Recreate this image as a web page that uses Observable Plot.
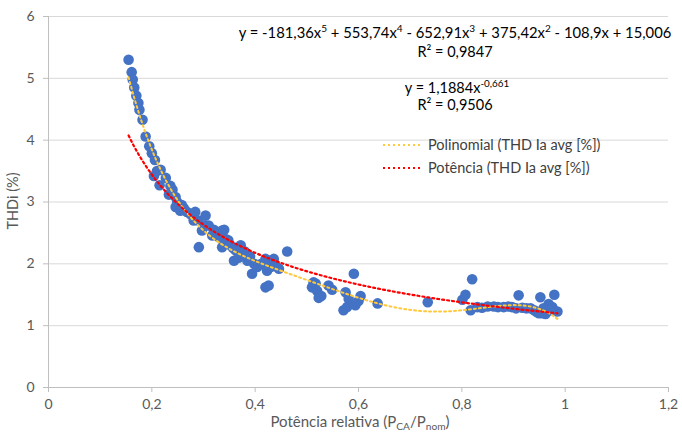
<!DOCTYPE html>
<html><head><meta charset="utf-8">
<script src="https://cdn.jsdelivr.net/npm/d3@7"></script>
<script src="https://cdn.jsdelivr.net/npm/@observablehq/plot@0.6"></script>
<style>
body{margin:0;background:#fff;}
#chart{width:682px;height:433px;}
svg text{font-family:Lato,"Open Sans",sans-serif;}
</style></head><body><div id="chart"></div>
<script>
// Measured points: relative power (x) and THDi % (y)
const relPower = [0.155,0.161,0.163,0.166,0.170,0.174,0.176,0.182,0.188,0.195,0.200,0.206,0.204,0.210,0.217,0.215,0.227,0.233,0.236,0.240,0.246,0.249,0.246,0.255,0.258,0.262,0.268,0.275,0.284,0.281,0.290,0.304,0.297,0.303,0.310,0.317,0.320,0.325,0.330,0.336,0.340,0.343,0.348,0.291,0.336,0.352,0.358,0.362,0.372,0.375,0.380,0.359,0.368,0.385,0.390,0.394,0.404,0.398,0.412,0.420,0.428,0.436,0.423,0.430,0.440,0.446,0.462,0.420,0.426,0.510,0.513,0.517,0.520,0.523,0.528,0.542,0.549,0.571,0.578,0.575,0.581,0.591,0.594,0.600,0.604,0.637,0.734,0.801,0.807,0.820,0.817,0.830,0.839,0.850,0.862,0.870,0.881,0.890,0.897,0.910,0.905,0.917,0.925,0.933,0.940,0.945,0.949,0.952,0.955,0.962,0.968,0.979,0.972,0.985,0.975,0.958];
const thdi = [5.30,5.10,4.98,4.85,4.72,4.60,4.49,4.33,4.06,3.90,3.79,3.68,3.42,3.50,3.52,3.27,3.39,3.12,3.26,3.20,3.08,3.00,2.92,2.86,2.95,2.90,2.84,2.80,2.84,2.70,2.70,2.78,2.54,2.62,2.62,2.46,2.55,2.50,2.43,2.54,2.55,2.40,2.38,2.27,2.27,2.30,2.25,2.22,2.30,2.16,2.20,2.05,2.10,2.05,2.12,1.84,1.95,2.00,2.00,2.08,2.05,2.08,1.89,1.95,1.96,1.92,2.20,1.62,1.65,1.62,1.70,1.68,1.56,1.45,1.48,1.65,1.58,1.25,1.30,1.54,1.43,1.84,1.33,1.40,1.48,1.36,1.38,1.42,1.50,1.75,1.25,1.30,1.29,1.31,1.31,1.30,1.30,1.31,1.30,1.49,1.28,1.29,1.28,1.28,1.25,1.22,1.20,1.46,1.20,1.19,1.35,1.50,1.25,1.23,1.30,1.28];
// Trendline coefficients shown on the chart
const polyCoef = [15.006, -108.9, 375.42, -652.91, 553.74, -181.36]; // c0..c5
const powCoef = [1.1884, -0.661];
const xTicks = [0, 0.2, 0.4, 0.6, 0.8, 1, 1.2];
const yTicks = [0, 1, 2, 3, 4, 5, 6];
const legendLabels = ["Polinomial (THD Ia avg [%])", "Potência (THD Ia avg [%])"];

const points = relPower.map((x, i) => ({x, y: thdi[i]}));
const xmin = d3.min(relPower), xmax = d3.max(relPower);
const trendX = d3.range(xmin, xmax, 0.004).concat([xmax]);
const polyLine = trendX.map(x => ({x, y: polyCoef.reduce((s, c, k) => s + c * Math.pow(x, k), 0)}));
const powLine = trendX.map(x => ({x, y: powCoef[0] * Math.pow(x, powCoef[1])}));
const fmt = d => String(+(+d).toFixed(1)).replace(".", ",");

const YEL = "#FFC83D", RED = "#FF0000";
const YDASH = "2,3", RDASH = "2,3";
const plot = Plot.plot({
  width: 682, height: 433,
  marginLeft: 48, marginRight: 14, marginTop: 16, marginBottom: 46,
  style: {fontFamily: "Lato, 'Open Sans', sans-serif", fontSize: "14px", background: "#fff", color: "#595959"},
  x: {domain: [0, 1.2]},
  y: {domain: [0, 6]},
  marks: [
    Plot.gridY(yTicks, {stroke: "#d9d9d9", strokeOpacity: 1}),
    Plot.ruleY([0], {stroke: "#bfbfbf"}),
    Plot.ruleX([0], {stroke: "#bfbfbf"}),
    Plot.axisY(yTicks, {tickSize: 5, tickPadding: 9, tickFormat: fmt, label: null, stroke: "#bfbfbf", fill: "#595959"}),
    Plot.axisX(xTicks, {tickSize: 5, tickPadding: 7, tickFormat: fmt, label: null, stroke: "#bfbfbf", fill: "#595959"}),
    Plot.dot(points, {x: "x", y: "y", r: 5.3, fill: "#4472C4", stroke: null}),
    Plot.line(polyLine, {x: "x", y: "y", stroke: YEL, strokeWidth: 2, strokeDasharray: YDASH}),
    Plot.line(powLine, {x: "x", y: "y", stroke: RED, strokeWidth: 2.2, strokeDasharray: RDASH})
  ]
});
document.getElementById("chart").appendChild(plot);

const svg = d3.select(plot);
const g = svg.append("g").attr("font-family", "Lato, 'Open Sans', sans-serif");
function rich(x, y, parts, opts = {}) {
  const size = opts.size || 14;
  const t = g.append("text").attr("x", x).attr("y", y)
    .attr("text-anchor", opts.anchor || "middle")
    .attr("font-size", size)
    .attr("fill", opts.fill || "#000");
  if (opts.rotate) t.attr("transform", `rotate(${opts.rotate},${x},${y})`);
  let pending = 0;
  for (const p of parts) {
    if (typeof p === "string") {
      const s = t.append("tspan").text(p);
      if (pending) { s.attr("dy", pending); pending = 0; }
    } else {
      const shift = p.sup ? -size * 0.38 : size * 0.2;
      const s = t.append("tspan").text(p.t).attr("font-size", size * 0.68).attr("dy", shift + pending);
      pending = -shift;
    }
  }
  return t;
}
rich(455, 38, ["y = -181,36x", {t: "5", sup: 1}, " + 553,74x", {t: "4", sup: 1}, " - 652,91x", {t: "3", sup: 1}, " + 375,42x", {t: "2", sup: 1}, " - 108,9x + 15,006"], {size: 14.8});
rich(455, 57, ["R² = 0,9847"], {size: 14.5});
rich(457, 93, ["y = 1,1884x", {t: "-0,661", sup: 1}], {size: 14.5});
rich(455, 110, ["R² = 0,9506"], {size: 14.5});

// legend
const leg = [{c: YEL, w: 2, d: YDASH}, {c: RED, w: 2.2, d: RDASH}];
leg.forEach((l, i) => {
  const y = 145 + i * 23;
  g.append("line").attr("x1", 383).attr("x2", 420).attr("y1", y).attr("y2", y)
    .attr("stroke", l.c).attr("stroke-width", l.w).attr("stroke-dasharray", l.d);
  g.append("text").attr("x", 428).attr("y", y + 5).attr("text-anchor", "start")
    .attr("font-size", 14.5).attr("fill", "#404040").text(legendLabels[i]);
});

// axis titles
rich(360, 427, ["Potência relativa (P", {t: "CA", sup: 0}, "/P", {t: "nom", sup: 0}, ")"], {fill: "#595959", size: 15});
rich(18, 201, ["THDi (%)"], {fill: "#595959", size: 14.5, rotate: -90});
</script></body></html>
